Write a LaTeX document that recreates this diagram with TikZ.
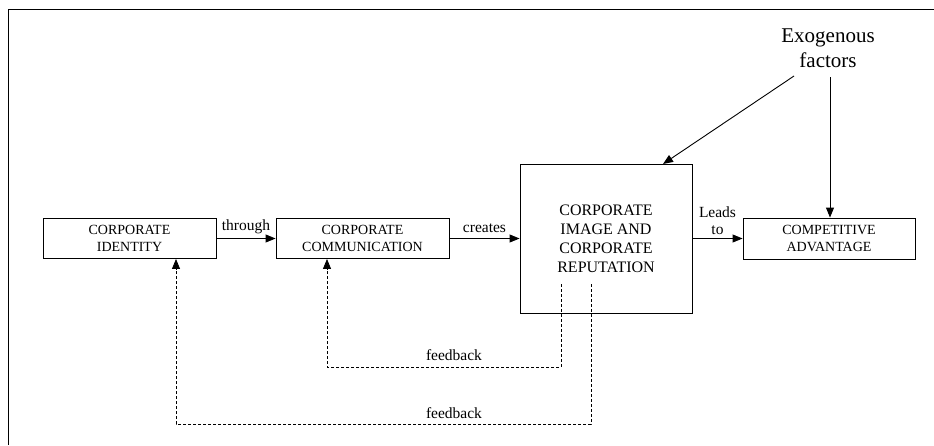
\documentclass[tikz,border=0pt]{standalone}
\usepackage{fontspec}
\setmainfont{Liberation Serif}
\usetikzlibrary{arrows.meta}
\begin{document}
\begin{tikzpicture}[x=1pt,y=-1pt,
  box/.style={draw, line width=0.9pt, inner sep=0pt, align=center,
    font=\fontsize{14}{17}\selectfont},
  lbl/.style={font=\fontsize{15.5}{17}\selectfont, inner sep=0pt, align=center},
  flow/.style={line width=0.9pt, -{Triangle[length=10pt,width=8pt]}},
  fb/.style={line width=0.8pt, dashed, dash pattern=on 3pt off 2pt,
    -{Triangle[length=10pt,width=8pt]}}]
  \useasboundingbox (0,0) rectangle (934,445);
  % frame
  \draw[line width=1pt] (8,445) -- (8,9) -- (934,9);

  % boxes
  \node[box, minimum width=173pt, minimum height=40pt] (ident) at (129.5,238.5)
    {CORPORATE\\IDENTITY};
  \node[box, minimum width=173pt, minimum height=40pt] (comm) at (362.5,238.5)
    {CORPORATE\\COMMUNICATION};
  \node[box, minimum width=172pt, minimum height=149pt] (img) at (606,238.5) {};
  \node[font=\fontsize{16}{19}\selectfont, align=center, inner sep=0pt] (imgtxt)
    at (606,239) {CORPORATE\\IMAGE AND\\CORPORATE\\REPUTATION};
  \node[box, minimum width=172pt, minimum height=41pt] (comp) at (829,238.5)
    {COMPETITIVE\\ADVANTAGE};

  \node[font=\fontsize{21}{25}\selectfont, align=center, inner sep=0pt] (exo)
    at (828,48) {Exogenous\\factors};

  % main flow
  \draw[flow] (ident) -- node[lbl, above=4pt] {through} (comm);
  \draw[flow] (comm) -- node[lbl, above=5pt] {creates} (img);
  \draw[flow] (img) -- node[lbl, above=3pt] {Leads\\to} (comp);

  % exogenous influences
  \coordinate (e1) at (794,76);
  \coordinate (e2) at (830,77);
  \coordinate (imgtop) at (663,164);
  \draw[flow] (e1) -- (imgtop);
  \draw[flow] (e2) -- (e2 |- comp.north);

  % feedback loops
  \coordinate (fb1) at (561,284);
  \coordinate (fb2) at (591,284);
  \coordinate (c1) at (327,367);
  \coordinate (c2) at (176,424);
  \draw[fb] (fb1) |- (c1) -- (c1 |- comm.south);
  \draw[fb] (fb2) |- (c2) -- (c2 |- ident.south);
  \node[lbl] (fbl1) at (454,355) {feedback};
  \node[lbl] (fbl2) at (454,413) {feedback};
\end{tikzpicture}
\end{document}
